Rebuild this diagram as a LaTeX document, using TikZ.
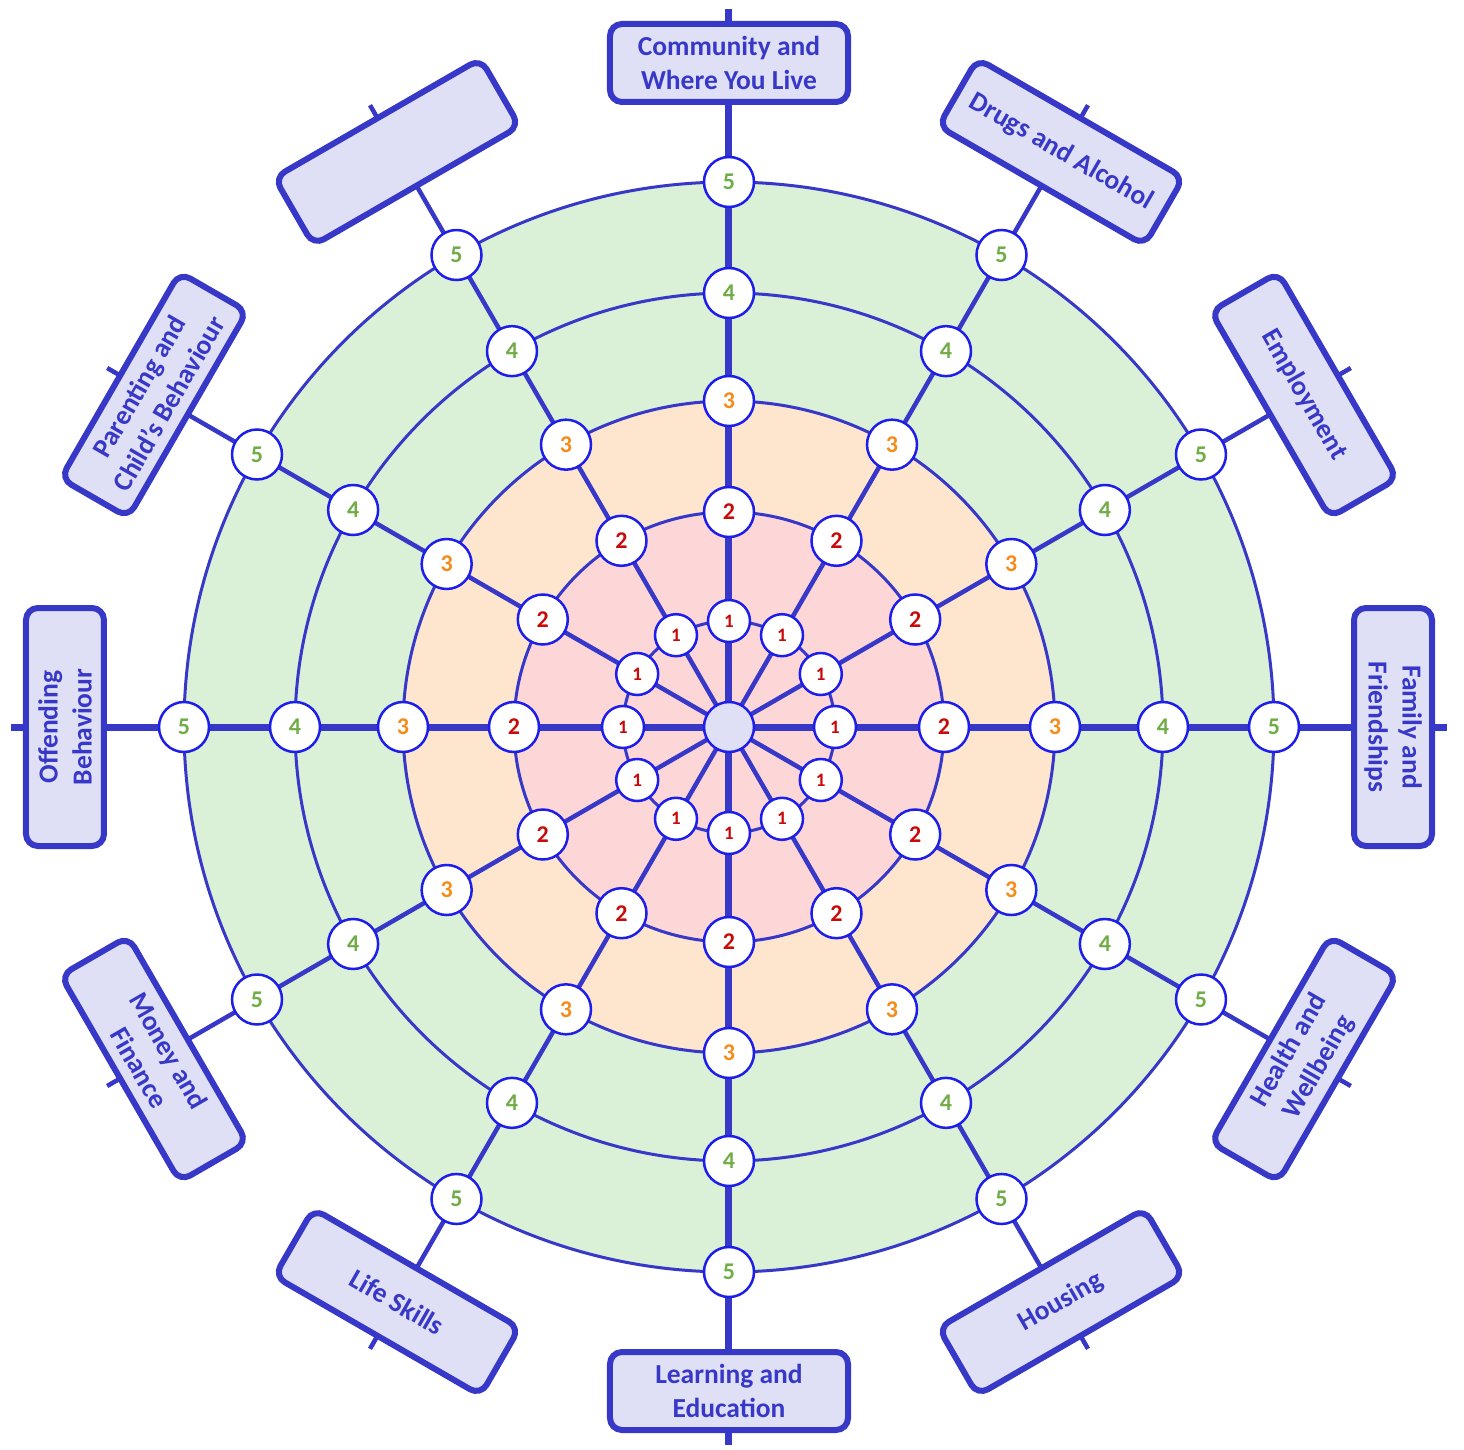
\documentclass[tikz,border=0pt]{standalone}
\usepackage{fontspec}
\setmainfont{Carlito}
\definecolor{linec}{RGB}{56,56,200}
\definecolor{nodeblue}{RGB}{30,30,235}
\definecolor{boxfill}{RGB}{223,224,245}
\definecolor{ringgreen}{RGB}{218,241,216}
\definecolor{ringpeach}{RGB}{253,229,206}
\definecolor{ringpink}{RGB}{253,214,216}
\definecolor{numgreen}{RGB}{112,173,71}
\definecolor{numorange}{RGB}{245,140,25}
\definecolor{numred}{RGB}{200,10,10}
\pgfdeclarelayer{bg}
\pgfsetlayers{bg,main}
\begin{document}
\begin{tikzpicture}[x=1pt,y=1pt,
  spoke/.style={draw=linec, line width=4.5pt},
  mainspoke/.style={draw=linec, line width=7pt},
  ring/.style={draw=linec, line width=3pt},
  numnode/.style={circle, draw=nodeblue, line width=2.5pt, fill=white, minimum size=50pt, inner sep=0pt, font=\bfseries\fontsize{24}{24}\selectfont},
  onenode/.style={numnode, minimum size=42pt, font=\bfseries\fontsize{19}{19}\selectfont},
  lab/.style={draw=linec, line width=6pt, fill=boxfill, rounded corners=12pt, minimum width=238pt, minimum height=78pt, text=linec, font=\bfseries\fontsize{27.5}{34}\selectfont, align=center, inner sep=0pt}]
\useasboundingbox (-729,-722) rectangle (735,727);
% centre and numbered nodes
\node[circle, draw=nodeblue, line width=2.5pt, fill=boxfill, minimum size=50pt, inner sep=0pt] (c) at (0,0) {};
\foreach \a in {0,30,...,330} {
  \coordinate (e\a) at (\a:718pt);
  \node[onenode, text=numred] (n1-\a) at (\a:106pt) {1};
  \node[numnode, text=numred] (n2-\a) at (\a:215pt) {2};
  \node[numnode, text=numorange] (n3-\a) at (\a:326pt) {3};
  \node[numnode, text=numgreen] (n4-\a) at (\a:434pt) {4};
  \node[numnode, text=numgreen] (n5-\a) at (\a:545pt) {5};
}
% label boxes
\foreach \a/\r/\t in {0/-90/{Family and\\Friendships},
                      30/-60/{Employment},
                      60/-30/{Drugs and Alcohol},
                      90/0/{Community and\\Where You Live},
                      120/30/{},
                      150/60/{Parenting and\\Child’s Behaviour},
                      180/90/{Offending\\Behaviour},
                      210/-60/{Money and\\Finance},
                      240/-30/{Life Skills},
                      270/0/{Learning and\\Education},
                      300/30/{Housing},
                      330/60/{Health and\\Wellbeing}} {
  \node[lab, rotate=\r] (b\a) at (\a:664pt) {\t};
}
\begin{pgfonlayer}{bg}
  \fill[ringgreen] (c.center) circle (545pt);
  \fill[ringpeach] (c.center) circle (326pt);
  \fill[ringpink] (c.center) circle (215pt);
  \foreach \r in {106,215,326,434,545} \draw[ring] (c.center) circle (\r pt);
  \foreach \a in {30,60,120,150,210,240,300,330} \draw[spoke] (c.center) -- (e\a);
  \foreach \a in {0,90,180,270} \draw[mainspoke] (c.center) -- (e\a);
\end{pgfonlayer}
\end{tikzpicture}
\end{document}
